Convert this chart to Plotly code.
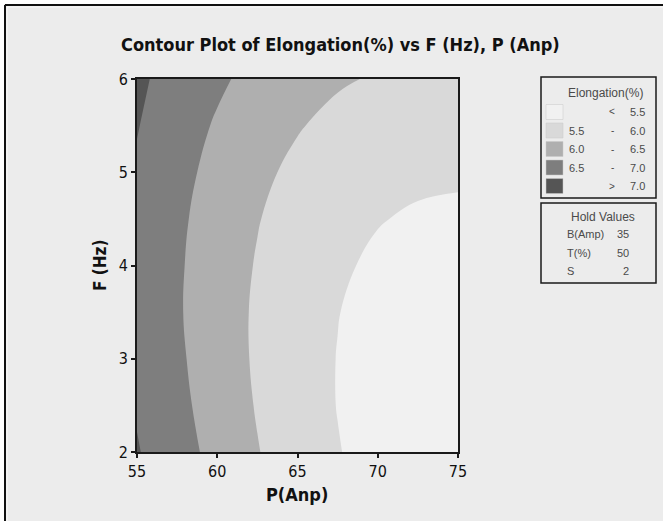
import plotly.graph_objects as go

# Design space
P_AMP = [55, 57.5, 60, 62.5, 65, 67.5, 70, 72.5, 75]
F_HZ = [2, 2.5, 3, 3.5, 4, 4.5, 5, 5.5, 6]

# Elongation (%) — one row per F value, one column per P value
ELONGATION = [
    [7.03, 6.71, 6.34, 6.02, 5.75, 5.52, 5.34, 5.21, 5.12],  # F = 2.0
    [6.96, 6.63, 6.28, 5.97, 5.71, 5.49, 5.32, 5.20, 5.13],  # F = 2.5
    [6.92, 6.58, 6.24, 5.94, 5.69, 5.49, 5.33, 5.22, 5.16],  # F = 3.0
    [6.90, 6.55, 6.22, 5.94, 5.70, 5.51, 5.37, 5.27, 5.22],  # F = 3.5
    [6.90, 6.56, 6.24, 5.97, 5.74, 5.56, 5.43, 5.35, 5.31],  # F = 4.0
    [6.91, 6.59, 6.28, 6.02, 5.81, 5.64, 5.52, 5.45, 5.42],  # F = 4.5
    [6.95, 6.65, 6.35, 6.10, 5.90, 5.75, 5.64, 5.58, 5.56],  # F = 5.0
    [7.02, 6.73, 6.45, 6.21, 6.03, 5.88, 5.79, 5.74, 5.74],  # F = 5.5
    [7.07, 6.85, 6.58, 6.35, 6.18, 6.05, 5.96, 5.93, 5.93],  # F = 6.0
]

LEVELS = [5.5, 6.0, 6.5, 7.0]
BAND_COLORS = ["#f1f1f1", "#d9d9d9", "#afafaf", "#7e7e7e", "#555555"]

X_TICKS = [55, 60, 65, 70, 75]
Y_TICKS = [2, 3, 4, 5, 6]

HOLD_NAMES = ["B(Amp)", "T(%)", "S"]
HOLD_VALUES = [35, 50, 2]

W, H = 663, 521
L, R, T, B = 137, 205, 79, 69
PW, PH = W - L - R, H - T - B


def px(x):
    return (x - L) / PW


def py(y):
    return (H - B - y) / PH


# stepped colour scale: one flat colour per band
n = len(BAND_COLORS)
colorscale = []
for i, c in enumerate(BAND_COLORS):
    lo = 0 if i == 0 else (i - 0.5) / (n - 1)
    hi = 1 if i == n - 1 else (i + 0.5) / (n - 1)
    colorscale += [[lo, c], [hi, c]]

step = LEVELS[1] - LEVELS[0]
fig = go.Figure(
    go.Contour(
        x=P_AMP,
        y=F_HZ,
        z=ELONGATION,
        contours=dict(start=LEVELS[0], end=LEVELS[-1], size=step, coloring="fill"),
        colorscale=colorscale,
        showscale=False,
        line=dict(width=0, smoothing=1.2),
        hoverinfo="x+y+z",
    )
)

NARROW = "Liberation Sans Narrow, DejaVu Sans Condensed, Liberation Sans"
FONT = "Liberation Sans"
axis_common = dict(
    showline=True,
    linecolor="#1a1a1a",
    linewidth=2,
    mirror=True,
    ticks="outside",
    ticklen=4,
    tickwidth=1.5,
    tickcolor="#1a1a1a",
    showgrid=False,
    zeroline=False,
    tickfont=dict(family=NARROW, size=16, color="#111"),
)
fig.update_xaxes(range=[P_AMP[0], P_AMP[-1]], tickvals=X_TICKS, **axis_common)
fig.update_yaxes(range=[F_HZ[0], F_HZ[-1]], tickvals=Y_TICKS, **axis_common)

shapes = []
annotations = []

# outer frame of the graph window
shapes.append(dict(type="rect", xref="paper", yref="paper", x0=px(0), x1=px(4), y0=py(H), y1=py(0),
                   fillcolor="white", line=dict(width=0), layer="below"))
shapes.append(dict(type="rect", xref="paper", yref="paper", x0=px(0), x1=px(W), y0=py(4), y1=py(0),
                   fillcolor="white", line=dict(width=0), layer="below"))
shapes.append(dict(type="line", xref="paper", yref="paper", x0=px(5), x1=px(5), y0=py(H), y1=py(5),
                   line=dict(color="#111", width=2)))
shapes.append(dict(type="line", xref="paper", yref="paper", x0=px(5), x1=px(W), y0=py(5), y1=py(5),
                   line=dict(color="#111", width=2)))
shapes.append(dict(type="line", xref="paper", yref="paper", x0=px(7), x1=px(7), y0=py(H), y1=py(7),
                   line=dict(color="#fafafa", width=1)))
shapes.append(dict(type="line", xref="paper", yref="paper", x0=px(7), x1=px(W), y0=py(7), y1=py(7),
                   line=dict(color="#fafafa", width=1)))


def text(x, y, s, size=10, color="#4a4a4a", xanchor="center", angle=0, family=FONT):
    annotations.append(dict(xref="paper", yref="paper", x=px(x), y=py(y), text=s, showarrow=False,
                            xanchor=xanchor, yanchor="middle", textangle=angle,
                            font=dict(family=family, size=size, color=color)))


# titles
text(340, 45, "<b>Contour Plot of Elongation(%) vs F (Hz), P (Anp)</b>", size=18, color="#111", family=NARROW)
text(297, 494, "<b>P(Anp)</b>", size=18, color="#111", family=NARROW)
text(100, 266, "<b>F (Hz)</b>", size=17, color="#111", angle=-90, family=NARROW)

# band key
box_l, box_r = 541, 656
shapes.append(dict(type="rect", xref="paper", yref="paper", x0=px(box_l), x1=px(box_r), y0=py(198), y1=py(77),
                   line=dict(color="#1a1a1a", width=1.5), fillcolor="rgba(0,0,0,0)"))
text(605, 93, "Elongation(%)", size=12)
row_y = [112, 130.5, 149, 167.5, 186]
for i, c in enumerate(BAND_COLORS):
    yc = row_y[i]
    shapes.append(dict(type="rect", xref="paper", yref="paper", x0=px(546), x1=px(563),
                       y0=py(yc + 7.5), y1=py(yc - 7.5), fillcolor=c, line=dict(color="#c8c8c8", width=0.5)))
    if i == 0:
        text(612, yc, "&lt;", size=10)
        text(647, yc, f"{LEVELS[0]:.1f}", size=11, xanchor="right")
    elif i == n - 1:
        text(612, yc, "&gt;", size=10)
        text(647, yc, f"{LEVELS[-1]:.1f}", size=11, xanchor="right")
    else:
        text(567, yc, f"{LEVELS[i - 1]:.1f}", size=11, xanchor="left")
        text(612, yc, "-", size=10)
        text(647, yc, f"{LEVELS[i]:.1f}", size=11, xanchor="right")

# held factor settings
shapes.append(dict(type="rect", xref="paper", yref="paper", x0=px(box_l), x1=px(box_r), y0=py(283), y1=py(203),
                   line=dict(color="#1a1a1a", width=1.5), fillcolor="rgba(0,0,0,0)"))
text(603, 217, "Hold Values", size=12)
for name, val, yc in zip(HOLD_NAMES, HOLD_VALUES, [234, 252.5, 271]):
    text(565, yc, name, size=11, xanchor="left")
    text(631, yc, str(val), size=11, xanchor="right")

fig.update_layout(
    width=W,
    height=H,
    margin=dict(l=L, r=R, t=T, b=B, pad=0),
    paper_bgcolor="#ececec",
    plot_bgcolor="#ececec",
    shapes=shapes,
    annotations=annotations,
    showlegend=False,
)

fig.write_html("out.html")
